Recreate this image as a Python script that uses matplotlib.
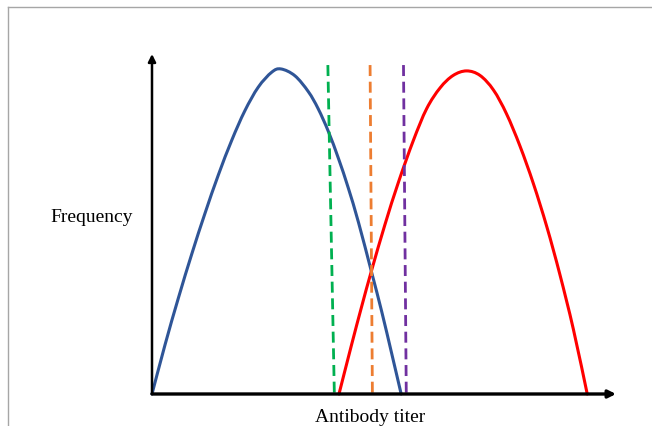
import matplotlib
matplotlib.use('Agg')
import matplotlib.pyplot as plt
from matplotlib.lines import Line2D
from matplotlib.path import Path
from matplotlib.patches import PathPatch

# Curve samples (titer units, frequency scaled to peak = 1)
low_x = [0.0, 0.28, 0.57, 0.86, 1.14, 1.43, 1.72, 2.00, 2.29, 2.58, 2.78,
         3.08, 3.37, 3.58, 3.80, 4.02, 4.23, 4.45, 4.73, 4.95, 5.17, 5.37]
low_y = [0.0, 0.151, 0.296, 0.432, 0.555, 0.674, 0.781, 0.871, 0.944, 0.990, 1.0,
         0.979, 0.930, 0.878, 0.808, 0.724, 0.634, 0.528, 0.376, 0.254, 0.122, 0.0]

high_x = [4.03, 4.30, 4.52, 4.73, 5.02, 5.31, 5.63, 5.92, 6.21, 6.49, 6.78,
          7.07, 7.36, 7.64, 7.93, 8.22, 8.51, 8.79, 9.08, 9.38]
high_y = [0.0, 0.151, 0.270, 0.379, 0.521, 0.651, 0.779, 0.878, 0.942, 0.980, 0.994,
          0.980, 0.935, 0.862, 0.763, 0.647, 0.514, 0.368, 0.200, 0.0]

# Cut-off lines (x at top, x at bottom)
cutoff_top = [3.79, 4.70, 5.42]
cutoff_bottom = [3.93, 4.75, 5.48]
cutoff_height = 1.012
cutoff_colors = ['#00B050', '#ED7D31', '#7030A0']

X_MAX = 10
Y_MAX = 1.046


def smooth_path(xs, ys):
    # Catmull-Rom through the read points, drawn as cubic Bezier segments
    pts = list(zip(xs, ys))
    verts = [pts[0]]
    codes = [Path.MOVETO]
    for i in range(len(pts) - 1):
        p0 = pts[i - 1] if i > 0 else pts[i]
        p1 = pts[i]
        p2 = pts[i + 1]
        p3 = pts[i + 2] if i + 2 < len(pts) else pts[i + 1]
        c1 = (p1[0] + (p2[0] - p0[0]) / 6, p1[1] + (p2[1] - p0[1]) / 6)
        c2 = (p2[0] - (p3[0] - p1[0]) / 6, p2[1] - (p3[1] - p1[1]) / 6)
        verts += [c1, c2, p2]
        codes += [Path.CURVE4] * 3
    return Path(verts, codes)


fig = plt.figure(figsize=(6.52, 4.27), dpi=100)
ax = fig.add_axes([152 / 652, 32 / 427, 464 / 652, 340 / 427])
ax.set_xlim(0, X_MAX)
ax.set_ylim(0, Y_MAX)
ax.axis('off')

# Distributions
for xs, ys, c in [(low_x, low_y, '#2F5597'), (high_x, high_y, '#FF0000')]:
    ax.add_patch(PathPatch(smooth_path(xs, ys), facecolor='none', edgecolor=c,
                           lw=2.2, capstyle='round', clip_on=False))

# Dashed cut-offs
for xt, xb, c in zip(cutoff_top, cutoff_bottom, cutoff_colors):
    ax.plot([xt, xb], [cutoff_height, 0], color=c, lw=2,
            linestyle=(0, (3.95, 2.05)), clip_on=False)

# Axes with arrow heads
arrow = dict(arrowstyle='-|>', color='black', lw=1.8, mutation_scale=11,
             shrinkA=0, shrinkB=0)
ax.annotate('', xy=(X_MAX, 0), xytext=(0, 0), arrowprops=dict(arrow, lw=2.4),
            annotation_clip=False)
ax.annotate('', xy=(0, Y_MAX), xytext=(0, 0), arrowprops=arrow,
            annotation_clip=False)

# Labels
fig.text(50.7 / 652, 1 - 222 / 427, 'Frequency', family='Liberation Serif',
         fontsize=14, va='baseline', ha='left')
fig.text(370 / 652, 1 - 422 / 427, 'Antibody titer', family='Liberation Serif',
         fontsize=14, va='baseline', ha='center')

# Grey frame on top and left
fig.add_artist(Line2D([8 / 652, 1], [1 - 8 / 427, 1 - 8 / 427], color='#a6a6a6', lw=1))
fig.add_artist(Line2D([8 / 652, 8 / 652], [0, 1 - 8 / 427], color='#a6a6a6', lw=1))

fig.savefig('out.png', dpi=100)
